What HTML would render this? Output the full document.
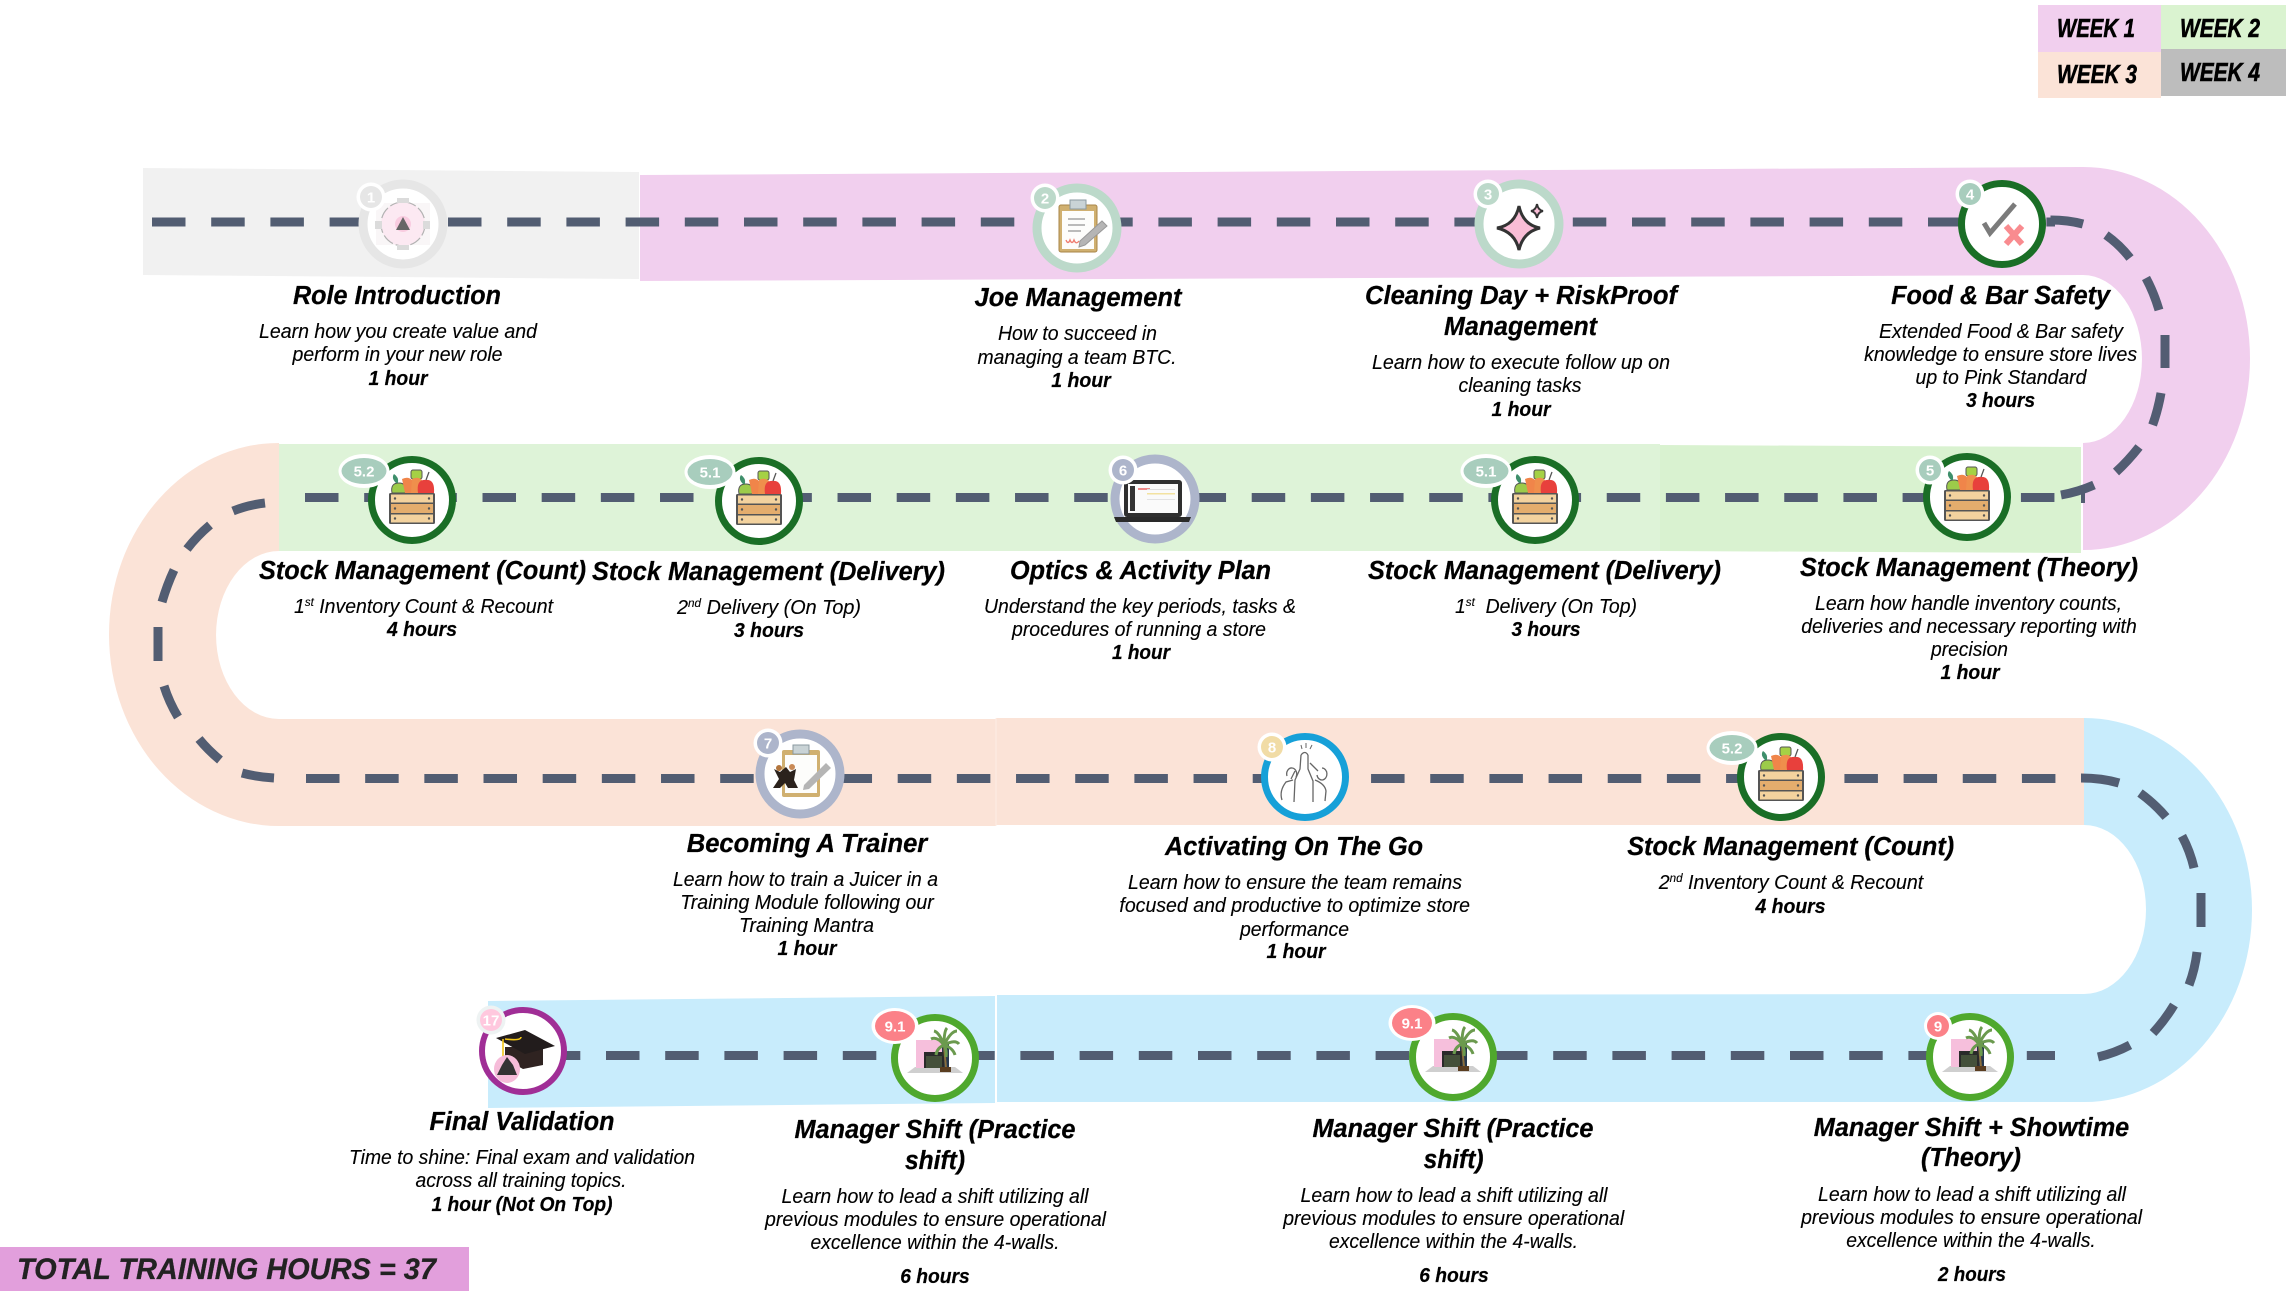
<!DOCTYPE html>
<html>
<head>
<meta charset="utf-8">
<style>
html,body{margin:0;padding:0;background:#fff;width:2296px;height:1291px;overflow:hidden}
svg{display:block}
text{font-family:"Liberation Sans",sans-serif;font-style:italic;text-anchor:middle;fill:#000}
.t{font-size:25.5px;font-weight:bold;stroke:#000;stroke-width:.25px}
.b{font-size:20.2px;stroke:#000;stroke-width:.12px}
.h{font-size:20.2px;font-weight:bold;stroke:#000;stroke-width:.2px}
.n{font-style:normal;font-weight:bold;fill:#fff;font-size:15px}
.dash{stroke:#525d72;stroke-width:9;fill:none}
.w{fill:#fff}
</style>
</head>
<body>
<svg width="2296" height="1291" viewBox="0 0 2296 1291" xmlns="http://www.w3.org/2000/svg">
<defs>
<g id="crate">
<path d="M-20,-7 Q-22,-17 -13,-17 Q-5,-17 -6,-7z" fill="#9ccb4a" stroke="#555" stroke-width="1"/>
<path d="M-16,-17 q-5,-5 -2,-9 q5,3 4,9z" fill="#3e8f6b"/>
<path d="M-7,-7 L-10,-21 Q-4,-24 0,-20 L2,-7z" fill="#f0854a"/>
<rect x="-1" y="-30" width="11" height="9" rx="2" fill="#a5d145" stroke="#555" stroke-width="1"/>
<path d="M-1,-7 L0,-21 Q6,-24 10,-20 L7,-7z" fill="#ef8f4c"/>
<path d="M6,-7 Q4,-21 14,-20 Q23,-21 22,-7z" fill="#e8403c"/>
<path d="M14,-20 L17,-28" stroke="#555" stroke-width="1.300"/>
<rect x="-23" y="-7" width="46" height="31" rx="1.500" fill="#555"/>
<rect x="-21" y="-5.500" width="42" height="8" fill="#f3d29e"/>
<rect x="-21" y="4" width="42" height="9" fill="#e4ad6d"/>
<rect x="-21" y="14.500" width="42" height="8" fill="#f3d29e"/>
<circle cx="-17" cy="-1.500" r="1.200" fill="#555"/><circle cx="17" cy="-1.500" r="1.200" fill="#555"/>
<circle cx="-17" cy="8.500" r="1.200" fill="#555"/><circle cx="17" cy="8.500" r="1.200" fill="#555"/>
<circle cx="-17" cy="18.500" r="1.200" fill="#555"/><circle cx="17" cy="18.500" r="1.200" fill="#555"/>
</g>
<g id="shop">
<path d="M-28,15 L-20,9 H20 L28,15z" fill="#cfcfcf"/>
<rect x="-19" y="-18" width="26" height="28" fill="#f6bfdc"/>
<rect x="7" y="-14" width="7" height="24" fill="#26384f"/>
<rect x="-11" y="-6" width="20" height="16" fill="#2a2a2a"/>
<rect x="-9" y="-2" width="16" height="12" fill="#44503a"/>
<path d="M11,10 L9,-12" stroke="#8a6d3b" stroke-width="2"/>
<path d="M9,-13 Q2,-22 -4,-19 M9,-13 Q4,-26 -1,-27 M9,-13 Q9,-27 12,-30 M9,-13 Q16,-27 22,-27 M9,-13 Q20,-19 24,-14 M9,-13 Q18,-10 20,-3 M9,-13 Q2,-10 1,-3 M9,-13 Q12,-8 11,-1" stroke="#6b9a4e" stroke-width="3" fill="none"/>
<rect x="5" y="9" width="11" height="5" fill="#5a3d20"/>
</g>
</defs>

<!-- Legend -->
<rect x="2038" y="5" width="123" height="47" fill="#f1cfee"/>
<rect x="2161" y="5" width="125" height="44" fill="#daf3d0"/>
<rect x="2038" y="52" width="123" height="46" fill="#fbe3d7"/>
<rect x="2161" y="49" width="125" height="47" fill="#bdbdbd"/>
<text class="t" style="stroke-width:.6px" x="2096" y="37" textLength="78" lengthAdjust="spacingAndGlyphs">WEEK 1</text>
<text class="t" style="stroke-width:.6px" x="2220" y="37" textLength="80" lengthAdjust="spacingAndGlyphs">WEEK 2</text>
<text class="t" style="stroke-width:.6px" x="2097" y="83" textLength="80" lengthAdjust="spacingAndGlyphs">WEEK 3</text>
<text class="t" style="stroke-width:.6px" x="2220" y="81" textLength="80" lengthAdjust="spacingAndGlyphs">WEEK 4</text>

<!-- Bands -->
<path d="M143,168 L639,172 L639,279 L143,275z" fill="#f1f1f1"/>
<path d="M640,175 L2083,167 A167,191.500 0 0 1 2083,550 L2083,443 A59,84 0 0 0 2083,275 L640,281z" fill="#f1cfee"/>
<path d="M279,444 L1660,444 L1660,551 L279,551z" fill="#def3d8"/>
<path d="M1660,445 L2081,447 L2081,553 L1660,551z" fill="#d9f2d0"/>
<path d="M279,443 A170,191.500 0 0 0 279,826 L996,826 L996,719 L279,719 A63,84 0 0 1 279,551z" fill="#fbe3d7"/>
<path d="M996,718 L2084,718 L2084,825 L996,825z" fill="#fbe3d7"/>
<rect x="995.500" y="718" width="1" height="108" fill="#fdeee6"/>
<path d="M2084,718 A168,192 0 0 1 2084,1102 L997,1102 L997,995 L2084,994 A62,84.500 0 0 0 2084,825z" fill="#c8ecfc"/>
<path d="M488,1001 L995,996 L995,1103 L488,1108z" fill="#c8ecfc"/>

<!-- Dashed path -->
<line class="dash" x1="152" y1="222" x2="2055" y2="222" stroke-dasharray="33.500 25.700"/>
<line class="dash" x1="305" y1="497.500" x2="2055" y2="497.500" stroke-dasharray="33.500 25.670"/>
<line class="dash" x1="306" y1="778.500" x2="2056" y2="778.500" stroke-dasharray="33.500 25.670"/>
<line class="dash" x1="546.800" y1="1055.500" x2="2055" y2="1055.500" stroke-dasharray="33.500 25.700"/>
<path class="dash" d="M2050.500,220 Q2068,220 2083,224 M2106,235 Q2120,245 2130,258 M2146,278 Q2154,293 2159,310 M2165,335 V368 M2161,393 Q2158,410 2152.600,425 M2139,447 Q2128,461 2116,472 M2094,485 Q2078,492 2061,495"/>
<rect x="2081" y="490" width="4" height="13" fill="#525d72"/>
<path class="dash" d="M265,503 Q248,505 233,511 M210,525 Q197,536 187,549 M174,570 Q167,585 162,602 M158,627 V661 M164,686 Q169,702 178,717 M199,739 Q208,750 220,760 M242,773 Q257,777 274,778"/>
<path class="dash" d="M2081,778 Q2102,778 2119,783 M2140,793 Q2155,804 2166,817 M2182,836 Q2190,851 2194,868 M2201,893 V927 M2197,952 Q2195,969 2189,985 M2174,1005 Q2165,1020 2153,1033 M2130,1045 Q2115,1053 2098,1057"/>

<!-- Node rings -->
<circle cx="403" cy="224" r="40" fill="#fff" stroke="#e6e6e6" stroke-width="9"/>
<circle cx="1077" cy="228" r="40" fill="#fff" stroke="#bcd9ca" stroke-width="9"/>
<circle cx="1519" cy="224" r="40" fill="#fff" stroke="#bcd9ca" stroke-width="9"/>
<circle cx="2002" cy="224" r="40.500" fill="#fff" stroke="#1a6e26" stroke-width="7"/>
<circle cx="1967" cy="497" r="40.500" fill="#fff" stroke="#1a6e26" stroke-width="7"/>
<circle cx="1535" cy="500" r="40.500" fill="#fff" stroke="#1a6e26" stroke-width="7"/>
<circle cx="1155" cy="499" r="40" fill="#fff" stroke="#adb5cb" stroke-width="9"/>
<circle cx="759" cy="501" r="40.500" fill="#fff" stroke="#1a6e26" stroke-width="7"/>
<circle cx="412" cy="500" r="40.500" fill="#fff" stroke="#1a6e26" stroke-width="7"/>
<circle cx="800" cy="774" r="40" fill="#fff" stroke="#adb5cb" stroke-width="9"/>
<circle cx="1305" cy="777" r="40.500" fill="#fff" stroke="#16a0d8" stroke-width="7"/>
<circle cx="1781" cy="777" r="40.500" fill="#fff" stroke="#1a6e26" stroke-width="7"/>
<circle cx="1970" cy="1057" r="40.500" fill="#fff" stroke="#4fa82d" stroke-width="7"/>
<circle cx="1453" cy="1057" r="40.500" fill="#fff" stroke="#4fa82d" stroke-width="7"/>
<circle cx="935" cy="1058" r="40.500" fill="#fff" stroke="#4fa82d" stroke-width="7"/>
<circle cx="523" cy="1051" r="41" fill="#fff" stroke="#a02e96" stroke-width="6"/>

<!-- Icons -->
<!-- node 1 -->
<g transform="translate(403,224)" opacity=".75">
<rect x="-27" y="-21" width="54" height="42" fill="#f8f4f5"/>
<circle r="22" fill="#fbe2ee" stroke="#999" stroke-width="1.200" stroke-dasharray="12 3"/>
<circle r="8" fill="#f8bcd6"/>
<path d="M0,-7 L7,6 H-7z" fill="#333"/>
<rect x="-6" y="-26" width="12" height="5" fill="#cfcfcf"/><rect x="-6" y="21" width="12" height="5" fill="#cfcfcf"/>
<rect x="-28" y="-3" width="7" height="8" fill="#d0d0d0"/><rect x="20" y="-3" width="7" height="8" fill="#d0d0d0"/>
</g>
<!-- node 2 clipboard -->
<g transform="translate(1077,228)">
<rect x="-18" y="-23" width="38" height="47" rx="2" fill="#d0b070" stroke="#a98649" stroke-width="1"/>
<rect x="-15" y="-17" width="32" height="38" fill="#fdfdfb"/>
<rect x="-7" y="-28" width="16" height="9" fill="#c9d3d6" stroke="#8a9aa0" stroke-width="1"/>
<path d="M-9,-9 H8 M-9,-3 H8 M-9,3 H4" stroke="#a5a5a5" stroke-width="1.500"/>
<path d="M-11,12 q2,5 4,0 q2,5 4,0 q2,5 5,1" stroke="#ef7f72" stroke-width="1.400" fill="none"/>
<path d="M3,13 L25,-7 L30,-2 L8,17 L2,19z" fill="#b5b5b5" stroke="#999" stroke-width="1"/>
</g>
<!-- node 3 sparkle -->
<g transform="translate(1519,224)">
<path d="M0,-18 Q4,1 21,4 Q4,8 0,26 Q-4,8 -22,4 Q-4,1 0,-18z" fill="#f9bdd6" stroke="#333" stroke-width="3"/>
<path d="M18,-20 Q19,-14 24,-13 Q19,-12 18,-6 Q17,-12 12,-13 Q17,-14 18,-20z" fill="#f9bdd6" stroke="#333" stroke-width="2"/>
</g>
<!-- node 4 -->
<g transform="translate(2002,224)">
<path d="M-18,-1 L-12,9 L13,-20" stroke="#7b7b7b" stroke-width="5" fill="none"/>
<path d="M4,2 L20,20 M20,2 L4,20" stroke="#f98b8f" stroke-width="6" fill="none"/>
</g>
<use href="#crate" x="1967" y="497"/>
<use href="#crate" x="1535" y="500"/>
<use href="#crate" x="759" y="501"/>
<use href="#crate" x="412" y="500"/>
<use href="#crate" x="1781" y="777"/>
<!-- node 6 laptop -->
<g transform="translate(1155,499)">
<rect x="-31" y="-19" width="58" height="37" rx="3" fill="#2f2f2f"/>
<rect x="-27" y="-15" width="50" height="29" fill="#fafafa"/>
<rect x="-25" y="-13" width="5" height="25" fill="#333"/>
<rect x="-17" y="-11" width="12" height="2" fill="#ef8a8a"/>
<rect x="-8" y="-6" width="28" height="1.500" fill="#f3e2a0"/>
<rect x="-8" y="-10" width="28" height="1" fill="#ddd"/><rect x="-8" y="0" width="28" height="1" fill="#e2e2e2"/>
<path d="M-41,18 H36 L34,23 H-39z" fill="#2a2a2a"/>
</g>
<!-- node 7 -->
<g transform="translate(800,774)">
<rect x="-18" y="-24" width="38" height="47" rx="2" fill="#d0b070"/>
<rect x="-15" y="-19" width="32" height="38" fill="#fdfdfb"/>
<rect x="-7" y="-29" width="16" height="9" fill="#c9d3d6" stroke="#8a9aa0" stroke-width="1"/>
<path d="M4,11 L26,-11 L31,-6 L9,15 L3,16z" fill="#b5b5b5"/>
<path d="M-26,-5 L-20,-2 L-14,-7 L-10,-2 L-4,-5 L-6,6 L-2,14 H-12 L-15,9 L-20,14 H-27 L-21,5z" fill="#2b221c"/>
<circle cx="-21" cy="-6" r="3" fill="#b3763d"/><circle cx="-8" cy="-7" r="3" fill="#c98a56"/>
</g>
<!-- node 8 -->
<g transform="translate(1305,777)" fill="none" stroke="#666" stroke-width="1.300">
<path d="M-4,-22 L-5,-8 L-10,3 L-11,25 M3,-22 L3,-8 L8,4 L8,25"/>
<path d="M-4,-22 Q0,-27 3,-22"/>
<path d="M-18,-1 a5,6 0 1 1 9,1 M-23,23 Q-26,14 -19,5 L-12,3 M-14,2 L-10,-6"/>
<path d="M12,-2 a5,6 0 1 0 5,-7 M10,3 Q20,7 21,14 L20,24 M13,-6 L5,-14"/>
<path d="M-3,-28 l-1,-4 M1,-29 v-5 M5,-28 l2,-4" stroke-width="1"/>
</g>
<use href="#shop" x="1970" y="1057"/>
<use href="#shop" x="1453" y="1057"/>
<use href="#shop" x="935" y="1058"/>
<!-- node 17 cap -->
<g transform="translate(523,1051)">
<path d="M-18,-4 L20,-4 L20,14 L0,18 L-18,8z" fill="#2f2321"/>
<path d="M-27,-13 L2,-21 L32,-5 L2,3z" fill="#221c1c"/>
<path d="M-18,-12 Q-2,-10 -2,-14 M-20,-12 L-20,6" stroke="#f1c517" stroke-width="1.600" fill="none"/>
<ellipse cx="-16" cy="18" rx="13" ry="14" fill="#f6bcd9"/>
<path d="M-16,6 L-10,14 L-6,24 H-26 L-21,14z" fill="#333"/>
</g>

<!-- Badges -->
<circle cx="371" cy="197" r="14.500" class="w"/><circle cx="371" cy="197" r="11" fill="#e6e6e6"/><text class="n" x="371" y="202.500">1</text>
<circle cx="1045" cy="198" r="14.500" class="w"/><circle cx="1045" cy="198" r="11" fill="#bcd9ca"/><text class="n" x="1045" y="203.500">2</text>
<circle cx="1488" cy="194" r="14.500" class="w"/><circle cx="1488" cy="194" r="11" fill="#bcd9ca"/><text class="n" x="1488" y="199.500">3</text>
<circle cx="1970" cy="194" r="14.500" class="w"/><circle cx="1970" cy="194" r="11" fill="#a8cdbd"/><text class="n" x="1970" y="199.500">4</text>
<circle cx="1930" cy="470" r="14.500" class="w"/><circle cx="1930" cy="470" r="11" fill="#a8cdbd"/><text class="n" x="1930" y="475.500">5</text>
<ellipse cx="1486" cy="471" rx="25.500" ry="17" class="w"/><ellipse cx="1486" cy="471" rx="22.500" ry="13" fill="#a8cdbd"/><text class="n" x="1486" y="476.500">5.1</text>
<circle cx="1123" cy="470" r="14.500" class="w"/><circle cx="1123" cy="470" r="11" fill="#adb5cb"/><text class="n" x="1123" y="475.500">6</text>
<ellipse cx="710" cy="472" rx="25.500" ry="17" class="w"/><ellipse cx="710" cy="472" rx="22.500" ry="13" fill="#a8cdbd"/><text class="n" x="710" y="477.500">5.1</text>
<ellipse cx="364" cy="471" rx="25.500" ry="17" class="w"/><ellipse cx="364" cy="471" rx="22.500" ry="13" fill="#a8cdbd"/><text class="n" x="364" y="476.500">5.2</text>
<circle cx="768" cy="743" r="14.500" class="w"/><circle cx="768" cy="743" r="11" fill="#adb5cb"/><text class="n" x="768" y="748.500">7</text>
<circle cx="1272" cy="747" r="14.500" class="w"/><circle cx="1272" cy="747" r="11" fill="#f1dca6"/><text class="n" x="1272" y="752.500">8</text>
<ellipse cx="1732" cy="748" rx="25.500" ry="17" class="w"/><ellipse cx="1732" cy="748" rx="22.500" ry="13" fill="#a8cdbd"/><text class="n" x="1732" y="753.500">5.2</text>
<circle cx="1938" cy="1026" r="14" class="w"/><circle cx="1938" cy="1026" r="11" fill="#fb8188"/><text class="n" x="1938" y="1031.500">9</text>
<ellipse cx="1412" cy="1023" rx="23.500" ry="18" class="w"/><ellipse cx="1412" cy="1023" rx="20" ry="15" fill="#fb8188"/><text class="n" x="1412" y="1028.500">9.1</text>
<ellipse cx="895" cy="1026" rx="23.500" ry="18" class="w"/><ellipse cx="895" cy="1026" rx="20" ry="15" fill="#fb8188"/><text class="n" x="895" y="1031.500">9.1</text>
<circle cx="491" cy="1020" r="14.500" fill="#eef3f3"/><circle cx="491" cy="1020" r="11" fill="#ffc8de"/><text class="n" x="491" y="1025.500">17</text>

<!-- Row 1 text -->
<text class="t" x="397" y="304" textLength="208" lengthAdjust="spacingAndGlyphs">Role Introduction</text>
<text class="b" x="398" y="338" textLength="278" lengthAdjust="spacingAndGlyphs">Learn how you create value and</text>
<text class="b" x="397.500" y="361" textLength="210" lengthAdjust="spacingAndGlyphs">perform in your new role</text>
<text class="h" x="398" y="385" textLength="59" lengthAdjust="spacingAndGlyphs">1 hour</text>

<text class="t" x="1078" y="306" textLength="207" lengthAdjust="spacingAndGlyphs">Joe Management</text>
<text class="b" x="1077.500" y="340" textLength="159" lengthAdjust="spacingAndGlyphs">How to succeed in</text>
<text class="b" x="1077" y="364" textLength="199" lengthAdjust="spacingAndGlyphs">managing a team BTC.</text>
<text class="h" x="1081" y="387" textLength="59.500" lengthAdjust="spacingAndGlyphs">1 hour</text>

<text class="t" x="1521" y="304" textLength="312" lengthAdjust="spacingAndGlyphs">Cleaning Day + RiskProof</text>
<text class="t" x="1520.500" y="335" textLength="153" lengthAdjust="spacingAndGlyphs">Management</text>
<text class="b" x="1521" y="369" textLength="298" lengthAdjust="spacingAndGlyphs">Learn how to execute follow up on</text>
<text class="b" x="1520" y="392" textLength="123" lengthAdjust="spacingAndGlyphs">cleaning tasks</text>
<text class="h" x="1521" y="416" textLength="59" lengthAdjust="spacingAndGlyphs">1 hour</text>

<text class="t" x="2000.600" y="304" textLength="219" lengthAdjust="spacingAndGlyphs">Food &amp; Bar Safety</text>
<text class="b" x="2001" y="338" textLength="244" lengthAdjust="spacingAndGlyphs">Extended Food &amp; Bar safety</text>
<text class="b" x="2000.600" y="361" textLength="273" lengthAdjust="spacingAndGlyphs">knowledge to ensure store lives</text>
<text class="b" x="2001" y="384" textLength="171" lengthAdjust="spacingAndGlyphs">up to Pink Standard</text>
<text class="h" x="2000.600" y="407" textLength="69" lengthAdjust="spacingAndGlyphs">3 hours</text>

<!-- Row 2 text -->
<text class="t" x="422.500" y="579" textLength="327" lengthAdjust="spacingAndGlyphs">Stock Management (Count)</text>
<text class="b" x="423.500" y="613" textLength="259" lengthAdjust="spacingAndGlyphs">1<tspan font-size="12" dy="-7">st</tspan><tspan dy="7"> Inventory Count &amp; Recount</tspan></text>
<text class="h" x="422" y="636" textLength="70" lengthAdjust="spacingAndGlyphs">4 hours</text>

<text class="t" x="768.500" y="580" textLength="353" lengthAdjust="spacingAndGlyphs">Stock Management (Delivery)</text>
<text class="b" x="769" y="614" textLength="184" lengthAdjust="spacingAndGlyphs">2<tspan font-size="12" dy="-7">nd</tspan><tspan dy="7"> Delivery (On Top)</tspan></text>
<text class="h" x="769" y="637" textLength="70" lengthAdjust="spacingAndGlyphs">3 hours</text>

<text class="t" x="1140.500" y="579" textLength="261" lengthAdjust="spacingAndGlyphs">Optics &amp; Activity Plan</text>
<text class="b" x="1140" y="613" textLength="312" lengthAdjust="spacingAndGlyphs">Understand the key periods, tasks &amp;</text>
<text class="b" x="1139" y="636" textLength="254" lengthAdjust="spacingAndGlyphs">procedures of running a store</text>
<text class="h" x="1141" y="659" textLength="58" lengthAdjust="spacingAndGlyphs">1 hour</text>

<text class="t" x="1544.500" y="579" textLength="353" lengthAdjust="spacingAndGlyphs">Stock Management (Delivery)</text>
<text class="b" x="1546" y="613" textLength="182" lengthAdjust="spacingAndGlyphs">1<tspan font-size="12" dy="-7">st</tspan><tspan dy="7" xml:space="preserve">  Delivery (On Top)</tspan></text>
<text class="h" x="1546" y="636" textLength="69" lengthAdjust="spacingAndGlyphs">3 hours</text>

<text class="t" x="1969" y="576" textLength="338" lengthAdjust="spacingAndGlyphs">Stock Management (Theory)</text>
<text class="b" x="1968.500" y="610" textLength="307" lengthAdjust="spacingAndGlyphs">Learn how handle inventory counts,</text>
<text class="b" x="1969" y="633" textLength="335.500" lengthAdjust="spacingAndGlyphs">deliveries and necessary reporting with</text>
<text class="b" x="1969.500" y="656" textLength="77" lengthAdjust="spacingAndGlyphs">precision</text>
<text class="h" x="1970" y="679" textLength="59" lengthAdjust="spacingAndGlyphs">1 hour</text>

<!-- Row 3 text -->
<text class="t" x="807" y="852" textLength="240.500" lengthAdjust="spacingAndGlyphs">Becoming A Trainer</text>
<text class="b" x="805.500" y="886" textLength="265" lengthAdjust="spacingAndGlyphs">Learn how to train a Juicer in a</text>
<text class="b" x="807" y="909" textLength="253.500" lengthAdjust="spacingAndGlyphs">Training Module following our</text>
<text class="b" x="806.500" y="932" textLength="135" lengthAdjust="spacingAndGlyphs">Training Mantra</text>
<text class="h" x="807" y="955" textLength="59" lengthAdjust="spacingAndGlyphs">1 hour</text>

<text class="t" x="1294" y="855" textLength="258" lengthAdjust="spacingAndGlyphs">Activating On The Go</text>
<text class="b" x="1295" y="889" textLength="334" lengthAdjust="spacingAndGlyphs">Learn how to ensure the team remains</text>
<text class="b" x="1294.700" y="912" textLength="350.600" lengthAdjust="spacingAndGlyphs">focused and productive to optimize store</text>
<text class="b" x="1294.500" y="936" textLength="109" lengthAdjust="spacingAndGlyphs">performance</text>
<text class="h" x="1296" y="958" textLength="59" lengthAdjust="spacingAndGlyphs">1 hour</text>

<text class="t" x="1790.700" y="855" textLength="327" lengthAdjust="spacingAndGlyphs">Stock Management (Count)</text>
<text class="b" x="1791" y="889" textLength="264.500" lengthAdjust="spacingAndGlyphs">2<tspan font-size="12" dy="-7">nd</tspan><tspan dy="7"> Inventory Count &amp; Recount</tspan></text>
<text class="h" x="1790.500" y="913" textLength="70" lengthAdjust="spacingAndGlyphs">4 hours</text>

<!-- Row 4 text -->
<text class="t" x="522" y="1130" textLength="185" lengthAdjust="spacingAndGlyphs">Final Validation</text>
<text class="b" x="522" y="1164" textLength="346" lengthAdjust="spacingAndGlyphs">Time to shine: Final exam and validation</text>
<text class="b" x="521" y="1187" textLength="211" lengthAdjust="spacingAndGlyphs">across all training topics.</text>
<text class="h" x="522" y="1211" textLength="181" lengthAdjust="spacingAndGlyphs">1 hour (Not On Top)</text>

<text class="t" x="935" y="1138" textLength="281" lengthAdjust="spacingAndGlyphs">Manager Shift (Practice</text>
<text class="t" x="935" y="1169" textLength="60" lengthAdjust="spacingAndGlyphs">shift)</text>
<text class="b" x="935" y="1203" textLength="307" lengthAdjust="spacingAndGlyphs">Learn how to lead a shift utilizing all</text>
<text class="b" x="935.500" y="1226" textLength="341" lengthAdjust="spacingAndGlyphs">previous modules to ensure operational</text>
<text class="b" x="935" y="1249" textLength="249" lengthAdjust="spacingAndGlyphs">excellence within the 4-walls.</text>
<text class="h" x="935" y="1283" textLength="69.500" lengthAdjust="spacingAndGlyphs">6 hours</text>

<text class="t" x="1453" y="1137" textLength="281" lengthAdjust="spacingAndGlyphs">Manager Shift (Practice</text>
<text class="t" x="1453.600" y="1168" textLength="60" lengthAdjust="spacingAndGlyphs">shift)</text>
<text class="b" x="1454" y="1202" textLength="307" lengthAdjust="spacingAndGlyphs">Learn how to lead a shift utilizing all</text>
<text class="b" x="1453.700" y="1225" textLength="341" lengthAdjust="spacingAndGlyphs">previous modules to ensure operational</text>
<text class="b" x="1453.500" y="1248" textLength="249" lengthAdjust="spacingAndGlyphs">excellence within the 4-walls.</text>
<text class="h" x="1454" y="1282" textLength="69.500" lengthAdjust="spacingAndGlyphs">6 hours</text>

<text class="t" x="1971.500" y="1136" textLength="315.500" lengthAdjust="spacingAndGlyphs">Manager Shift + Showtime</text>
<text class="t" x="1971" y="1166" textLength="100" lengthAdjust="spacingAndGlyphs">(Theory)</text>
<text class="b" x="1972" y="1201" textLength="308" lengthAdjust="spacingAndGlyphs">Learn how to lead a shift utilizing all</text>
<text class="b" x="1971.600" y="1224" textLength="341" lengthAdjust="spacingAndGlyphs">previous modules to ensure operational</text>
<text class="b" x="1971" y="1247" textLength="249.500" lengthAdjust="spacingAndGlyphs">excellence within the 4-walls.</text>
<text class="h" x="1972" y="1281" textLength="68" lengthAdjust="spacingAndGlyphs">2 hours</text>

<!-- Total -->
<rect x="0" y="1247" width="469" height="44" fill="#e29fdc"/>
<text x="226.500" y="1279" font-size="29.500" font-weight="bold" style="fill:#222;stroke:#222;stroke-width:.3px" textLength="419" lengthAdjust="spacingAndGlyphs">TOTAL TRAINING HOURS = 37</text>
</svg>
</body>
</html>
